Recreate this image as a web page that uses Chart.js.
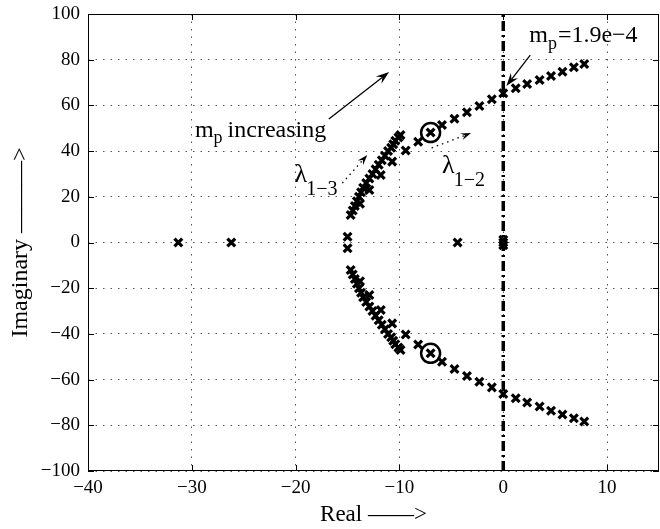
<!DOCTYPE html>
<html>
<head>
<meta charset="utf-8">
<script src="https://cdn.jsdelivr.net/npm/chart.js@4/dist/chart.umd.min.js"></script>
<style>
  html, body { margin: 0; padding: 0; background: #fff; }
  #wrap { width: 660px; height: 529px; }
</style>
</head>
<body>
<div id="wrap"><canvas id="c" width="660" height="529"></canvas></div>
<script>
/* root locus data */
const xTicks = [-40, -30, -20, -10, 0, 10];
const yTicks = [-100, -80, -60, -40, -20, 0, 20, 40, 60, 80, 100];

// lambda 1-2 branch (upper / lower half)
const x12    = [-15.0, -13.8, -12.9, -11.8, -10.7, -9.4, -8.2, -7.0, -5.9, -4.7, -3.5, -2.3, -1.1, 0.0, 1.2, 2.3, 3.5, 4.6, 5.7, 6.8, 7.8];
const y12Up  = [2.5, 17, 23, 29.5, 35.4, 40.3, 44.1, 48.1, 51.4, 54.2, 57.0, 59.7, 62.7, 65.3, 67.5, 69.4, 71.1, 72.9, 74.7, 76.7, 78.1];
const y12Low = [-2.5, -17, -23, -29.5, -35.4, -40.3, -44.6, -48.5, -52.2, -55.4, -58.4, -60.9, -63.4, -66.3, -68.2, -70.0, -71.8, -73.6, -75.3, -76.9, -78.3];

// lambda 1-3 branch (dense arc)
const x13    = [-14.7, -14.5, -14.3, -14.1, -13.9, -13.7, -13.5, -13.2, -12.9, -12.6, -12.3, -12.0, -11.7, -11.4, -11.1, -10.8, -10.6, -10.4, -10.1, -9.9];
const y13Up  = [12, 14, 16, 18, 20, 22, 24, 26, 28, 30, 32, 34, 36, 38, 40, 41.5, 43, 44.5, 46, 47];
const y13Low = [-12, -14, -16, -18, -20, -22, -24, -26, -28, -30, -32, -34, -36, -38, -40, -41.5, -43, -44.5, -46, -47];

// real eigenvalues
const xReal = [-31.3, -26.2, -4.4, 0, 0, 0];
const yReal = [0, 0, 0, 0, 1.2, -1.2];

// circled eigenvalues
const xCirc = [-7.0, -7.0];
const yCirc = [48.1, -48.5];

// stability boundary
const xBound = [0, 0];
const yBound = [-100, 100];

const SERIF = '"Liberation Serif", "DejaVu Serif", serif';
const pts = (xs, ys) => xs.map((x, i) => ({ x, y: ys[i] }));
const minus = v => String(v).replace('-', '\u2212');

const crossDs = (data) => ({
    data, showLine: false, pointStyle: 'crossRot', pointRadius: 5.5,
    pointBorderWidth: 3.2, pointBorderColor: '#000', pointBackgroundColor: '#000'
});

/* box, inward ticks and the annotations */
const decor = {
    id: 'decor',
    afterDatasetsDraw(chart) {
        const { ctx, chartArea: a, scales: { x, y } } = chart;
        ctx.save();
        ctx.strokeStyle = '#000';
        ctx.lineWidth = 1;
        ctx.strokeRect(a.left + 0.5, a.top + 0.5, a.right - a.left - 1, a.bottom - a.top - 1);
        ctx.beginPath();
        xTicks.forEach(v => {
            const px = Math.round(x.getPixelForValue(v)) + 0.5;
            ctx.moveTo(px, a.bottom); ctx.lineTo(px, a.bottom - 6);
            ctx.moveTo(px, a.top); ctx.lineTo(px, a.top + 6);
        });
        yTicks.forEach(v => {
            const py = Math.round(y.getPixelForValue(v)) + 0.5;
            ctx.moveTo(a.left, py); ctx.lineTo(a.left + 6, py);
            ctx.moveTo(a.right, py); ctx.lineTo(a.right - 6, py);
        });
        ctx.stroke();

        const P = (vx, vy) => [x.getPixelForValue(vx), y.getPixelForValue(vy)];

        const arrow = (from, to, dotted, head) => {
            const [x0, y0] = P(from[0], from[1]);
            const [x1, y1] = P(to[0], to[1]);
            const ang = Math.atan2(y1 - y0, x1 - x0);
            ctx.beginPath();
            ctx.setLineDash(dotted ? [1.5, 4] : []);
            ctx.lineWidth = 1.3;
            ctx.moveTo(x0, y0);
            ctx.lineTo(x1 - Math.cos(ang) * head * 0.6, y1 - Math.sin(ang) * head * 0.6);
            ctx.stroke();
            ctx.setLineDash([]);
            ctx.beginPath();
            ctx.moveTo(x1, y1);
            ctx.lineTo(x1 - head * Math.cos(ang - 0.33), y1 - head * Math.sin(ang - 0.33));
            ctx.lineTo(x1 - head * 0.6 * Math.cos(ang), y1 - head * 0.6 * Math.sin(ang));
            ctx.lineTo(x1 - head * Math.cos(ang + 0.33), y1 - head * Math.sin(ang + 0.33));
            ctx.closePath();
            ctx.fillStyle = '#000';
            ctx.fill();
        };

        arrow([-16.8, 54], [-11.0, 74.6], false, 14);
        arrow([2.6, 82], [0.3, 68.5], false, 14);
        arrow([-15.5, 26], [-13.1, 38.3], true, 11);
        arrow([-6.9, 41.4], [-3.1, 47.9], true, 11);

        ctx.fillStyle = '#000';
        ctx.textBaseline = 'alphabetic';
        ctx.textAlign = 'left';

        // m_p increasing
        let [tx, ty] = P(-29.7, 46.2);
        ctx.font = '24px ' + SERIF;
        ctx.fillText('m', tx, ty);
        let w = ctx.measureText('m').width;
        ctx.font = '18px ' + SERIF;
        ctx.fillText('p', tx + w, ty + 6);
        ctx.font = '24px ' + SERIF;
        ctx.fillText('increasing', tx + w + 14, ty);

        // m_p=1.9e-4
        [tx, ty] = P(2.5, 87.7);
        ctx.fillText('m', tx, ty);
        w = ctx.measureText('m').width;
        ctx.font = '18px ' + SERIF;
        ctx.fillText('p', tx + w, ty + 7);
        ctx.font = '24px ' + SERIF;
        ctx.fillText('=1.9e\u22124', tx + w + 10, ty);

        // lambda labels
        const lam = (vx, vy, sub) => {
            const [lx, ly] = P(vx, vy);
            ctx.font = '26px ' + SERIF;
            ctx.fillText('\u03bb', lx, ly);
            const lw = ctx.measureText('\u03bb').width;
            ctx.font = '20px ' + SERIF;
            ctx.fillText(sub, lx + lw - 1, ly + 13);
        };
        lam(-20.1, 26.5, '1\u22123');
        lam(-5.9, 30.5, '1\u22122');
        ctx.restore();
    }
};

new Chart(document.getElementById('c'), {
    type: 'scatter',
    data: {
        datasets: [
            {
                data: pts(xBound, yBound), showLine: true, pointRadius: 0,
                borderColor: '#000', borderWidth: 3.5, borderDash: [10, 4, 2, 4]
            },
            crossDs(pts(x12, y12Up)),
            crossDs(pts(x12, y12Low)),
            crossDs(pts(x13, y13Up)),
            crossDs(pts(x13, y13Low)),
            crossDs(pts(xReal, yReal)),
            {
                data: pts(xCirc, yCirc), showLine: false, pointStyle: 'circle',
                pointRadius: 9.5, pointBorderWidth: 2.5, pointBorderColor: '#000',
                pointBackgroundColor: 'rgba(0,0,0,0)'
            }
        ]
    },
    options: {
        responsive: false,
        animation: false,
        events: [],
        layout: { autoPadding: false, padding: { top: 14, right: 1, left: 0, bottom: 0 } },
        plugins: { legend: { display: false }, tooltip: { enabled: false } },
        scales: {
            x: {
                type: 'linear', min: -40, max: 15,
                afterBuildTicks: s => { s.ticks = xTicks.map(v => ({ value: v })); },
                afterFit: s => { s.height = 58; s.paddingLeft = 0; s.paddingRight = 0; },
                grid: { color: '#555', lineWidth: 1, drawTicks: false },
                border: { display: false, dash: [1.5, 6] },
                ticks: {
                    color: '#000', padding: 6, maxRotation: 0,
                    font: { family: SERIF, size: 19 },
                    callback: v => minus(v)
                },
                title: {
                    display: true, text: 'Real \u2014\u2014>', color: '#000',
                    font: { family: SERIF, size: 23 }, padding: { top: 4, bottom: 0 }
                }
            },
            y: {
                type: 'linear', min: -100, max: 100,
                afterBuildTicks: s => { s.ticks = yTicks.map(v => ({ value: v })); },
                afterFit: s => { s.width = 88; s.paddingTop = 0; s.paddingBottom = 0; },
                grid: { color: '#555', lineWidth: 1, drawTicks: false },
                border: { display: false, dash: [1.5, 6] },
                ticks: {
                    color: '#000', padding: 8,
                    font: { family: SERIF, size: 19 },
                    callback: v => minus(v)
                },
                title: {
                    display: true, text: 'Imaginary \u2014\u2014\u2014>', color: '#000',
                    font: { family: SERIF, size: 24 }, padding: { top: 6, bottom: 0 }
                }
            }
        }
    },
    plugins: [decor]
});
</script>
</body>
</html>
